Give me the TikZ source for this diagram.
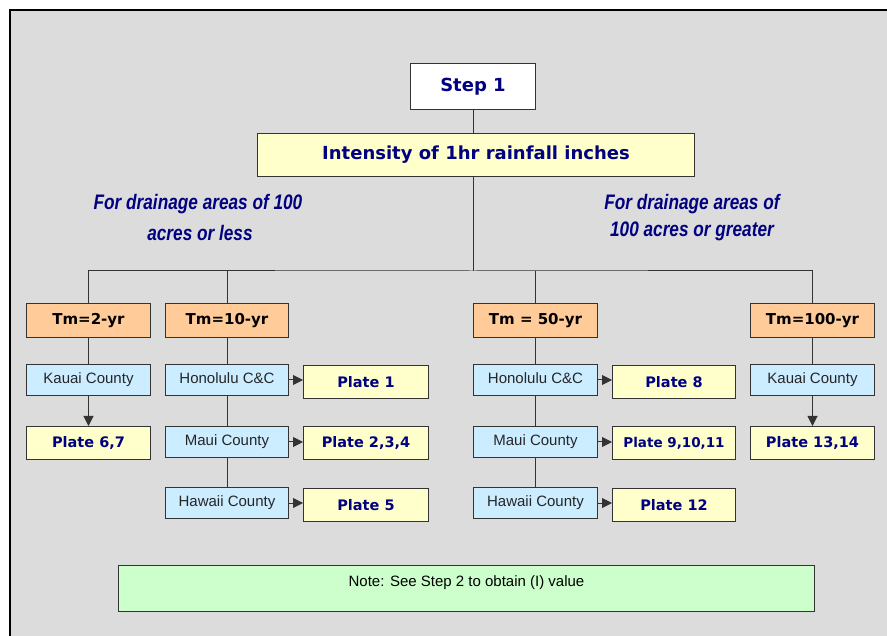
\documentclass[tikz,border=0pt]{standalone}
\usepackage{fontspec}
\setmainfont{Liberation Sans}
\newfontfamily\hdfont{DejaVu Sans}
\newfontfamily\lblfont[FakeStretch=0.82]{Liberation Sans}
\usetikzlibrary{arrows.meta}
\definecolor{bg}{HTML}{DCDCDC}
\definecolor{navy}{HTML}{000080}
\definecolor{ylw}{HTML}{FFFFCC}
\definecolor{org}{HTML}{FFCC99}
\definecolor{lblue}{HTML}{CCECFF}
\definecolor{lgreen}{HTML}{CCFFCC}
\tikzset{
  box/.style={draw=black!80, line width=1pt, inner sep=0pt, anchor=north west},
  stepbox/.style={box, fill=white, font=\hdfont\bfseries\fontsize{18}{20}\selectfont, text=navy},
  intbox/.style={box, fill=ylw, font=\hdfont\bfseries\fontsize{18}{20}\selectfont, text=navy},
  tmbox/.style={box, fill=org, font=\hdfont\bfseries\fontsize{15}{17}\selectfont, text=black},
  cntbox/.style={box, fill=lblue, font=\fontsize{15}{17}\selectfont, text=black!85},
  platebox/.style={box, fill=ylw, font=\hdfont\bfseries\fontsize{14.5}{16}\selectfont, text=navy},
  notebox/.style={box, fill=lgreen, font=\fontsize{15}{17}\selectfont, text=black},
  lbl/.style={font=\lblfont\bfseries\itshape\fontsize{21}{24}\selectfont, text=navy},
  conn/.style={draw=black!80, line width=1pt},
  arr/.style={conn, -{Triangle[length=10pt,width=10pt]}},
}
\begin{document}
\begin{tikzpicture}[x=1pt,y=-1pt]
\useasboundingbox (0,0) rectangle (887,636);
\fill[white] (0,0) rectangle (887,636);
\fill[bg] (10,10) rectangle (887,636);
\draw[black, line width=1.5pt] (10,636) -- (10,10) -- (887,10);
% boxes
\node[stepbox, minimum width=125pt, minimum height=46pt] (step) at (410,63) {Step 1};
\node[intbox, minimum width=437pt, minimum height=43pt] (int) at (257,133) {Intensity of 1hr rainfall inches};
\node[lbl] (l1) at (198,204) {For drainage areas of 100};
\node[lbl] (l2) at (200,233) {acres or less};
\node[lbl] (r1) at (692,204) {For drainage areas of};
\node[lbl] (r2) at (692,231) {100 acres or greater};
\node[tmbox, minimum width=124pt, minimum height=34pt] (t2) at (26,303) {Tm=2-yr};
\node[tmbox, minimum width=123pt, minimum height=34pt] (t10) at (165,303) {Tm=10-yr};
\node[tmbox, minimum width=124pt, minimum height=34pt] (t50) at (473,303) {Tm = 50-yr};
\node[tmbox, minimum width=124pt, minimum height=34pt] (t100) at (750,303) {Tm=100-yr};
% counties
\node[cntbox, minimum width=124pt, minimum height=31pt] (k1) at (26,364) {\raisebox{3pt}{Kauai County}};
\node[cntbox, minimum width=123pt, minimum height=31pt] (h10) at (165,364) {\raisebox{3pt}{Honolulu C\&C}};
\node[cntbox, minimum width=123pt, minimum height=31pt] (m10) at (165,426) {\raisebox{3pt}{Maui County}};
\node[cntbox, minimum width=123pt, minimum height=31pt] (w10) at (165,487) {\raisebox{3pt}{Hawaii County}};
\node[cntbox, minimum width=124pt, minimum height=31pt] (h50) at (473,364) {\raisebox{3pt}{Honolulu C\&C}};
\node[cntbox, minimum width=124pt, minimum height=31pt] (m50) at (473,426) {\raisebox{3pt}{Maui County}};
\node[cntbox, minimum width=124pt, minimum height=31pt] (w50) at (473,487) {\raisebox{3pt}{Hawaii County}};
\node[cntbox, minimum width=124pt, minimum height=31pt] (k100) at (750,364) {\raisebox{3pt}{Kauai County}};
% plates
\node[platebox, minimum width=124pt, minimum height=33pt] (p67) at (26,426) {Plate 6,7};
\node[platebox, minimum width=125pt, minimum height=33pt] (p1) at (303,365) {Plate 1};
\node[platebox, minimum width=125pt, minimum height=33pt] (p234) at (303,426) {Plate 2,3,4};
\node[platebox, minimum width=125pt, minimum height=33pt] (p5) at (303,488) {Plate 5};
\node[platebox, minimum width=123pt, minimum height=33pt] (p8) at (612,365) {Plate 8};
\node[platebox, minimum width=123pt, minimum height=33pt, font=\hdfont\bfseries\fontsize{13.5}{16}\selectfont] (p91011) at (612,426) {Plate 9,10,11};
\node[platebox, minimum width=123pt, minimum height=33pt] (p12) at (612,488) {Plate 12};
\node[platebox, minimum width=124pt, minimum height=33pt] (p1314) at (750,426) {Plate 13,14};
% note
\node[notebox, minimum width=696pt, minimum height=46pt] (note) at (118,565) {\raisebox{14pt}{Note: See Step 2 to obtain (I) value}};
% connectors
\coordinate (bar) at (473,271);
\coordinate (bartop) at (473,109);
\coordinate (intin) at (473,133);
\coordinate (intout) at (473,176);
\draw[conn] (bartop) -- (intin);
\draw[conn] (intout) -- (bar);
\draw[conn] (t2.north) |- (bar) -| (t100.north);
\draw[conn] (t10.north) -- (t10.north |- bar);
\draw[conn] (t50.north) -- (t50.north |- bar);
\draw[conn] (t2.south) -- (k1.north);
\draw[arr] (k1.south) -- (p67.north);
\draw[conn] (t10.south) -- (h10.north);
\draw[conn] (h10.south) -- (m10.north);
\draw[conn] (m10.south) -- (w10.north);
\draw[conn] (t50.south) -- (h50.north);
\draw[conn] (h50.south) -- (m50.north);
\draw[conn] (m50.south) -- (w50.north);
\draw[conn] (t100.south) -- (k100.north);
\draw[arr] (k100.south) -- (p1314.north);
\draw[arr] (h10.east) -- (h10.east -| p1.west);
\draw[arr] (m10.east) -- (m10.east -| p234.west);
\draw[arr] (w10.east) -- (w10.east -| p5.west);
\draw[arr] (h50.east) -- (h50.east -| p8.west);
\draw[arr] (m50.east) -- (m50.east -| p91011.west);
\draw[arr] (w50.east) -- (w50.east -| p12.west);
\end{tikzpicture}
\end{document}
